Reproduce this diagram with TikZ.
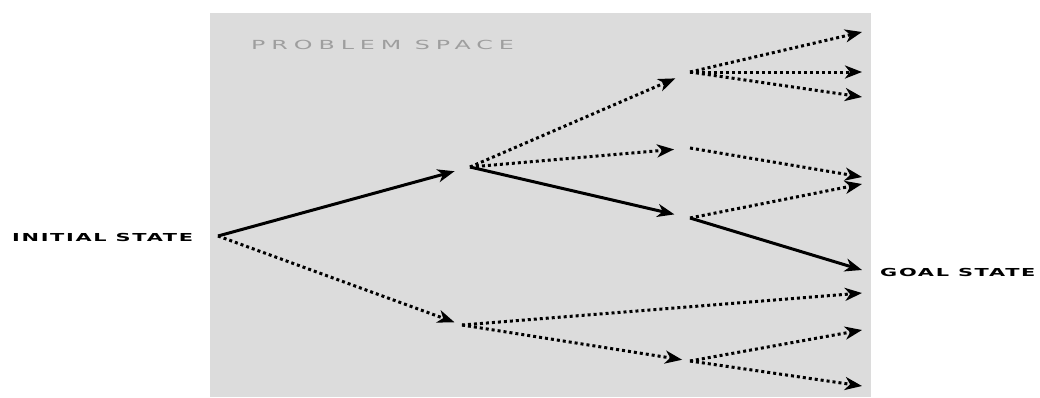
\documentclass[tikz,border=0pt]{standalone}
\usepackage{fontspec}
\usepackage{graphicx}
\usepackage{xcolor}
\usetikzlibrary{arrows.meta}
\newfontfamily\statefont{DejaVu Sans}[LetterSpace=8]
\newfontfamily\spacefont{DejaVu Sans}[LetterSpace=25]
\newcommand{\widetext}[1]{\scalebox{1.9}[1]{#1}}
\definecolor{spacegray}{HTML}{DCDCDC}
\definecolor{spacetext}{HTML}{9E9E9E}

\tikzset{
  move/.style={line width=3pt, -{Stealth[length=17pt, width=13pt, inset=5pt]}},
  trial/.style={move, dash pattern=on 3pt off 3pt},
  far/.style={shorten >=16pt},
  near/.style={shorten >=8pt},
  statelabel/.style={font=\statefont\bfseries\fontsize{11}{13}\selectfont, inner sep=0pt}
}

\begin{document}
\begin{tikzpicture}[x=1pt, y=-1pt]
  \useasboundingbox (0,0) rectangle (1040,397);
  % problem space
  \fill[spacegray] (210,13) rectangle (871,397);
  \node[anchor=west, inner sep=0pt, text=spacetext,
        font=\spacefont\fontsize{12.5}{14}\selectfont] (space) at (251,45) {\widetext{PROBLEM SPACE}};

  % states
  \coordinate (init) at (218,236);
  \coordinate (a) at (470,167);
  \coordinate (b) at (462,325);
  \coordinate (c) at (690,72);
  \coordinate (d) at (690,148);
  \coordinate (e) at (690,218);
  \coordinate (f) at (690,361);
  \foreach \name/\y in {c1/32, c2/72, c3/97, d1/177, e1/184, goal/270, b1/293, f1/330, f2/386}
    \coordinate (\name) at (862,\y);

  % labels
  \node[statelabel, anchor=west] (initlabel) at (12,237) {\widetext{INITIAL STATE}};
  \node[statelabel, anchor=west] (goallabel) at (880,272) {\widetext{GOAL STATE}};

  % the way to the goal
  \draw[move, far] (init) -- (a);
  \draw[move, far] (a) -- (e);
  \draw[move] (e) -- (goal);

  % dead ends
  \draw[trial, near] (init) -- (b);
  \draw[trial, far] (a) -- (c);
  \draw[trial, far] (a) -- (d);
  \draw[trial, near] (b) -- (f);
  \foreach \from/\to in {c/c1, c/c2, c/c3, d/d1, e/e1, b/b1, f/f1, f/f2}
    \draw[trial] (\from) -- (\to);
\end{tikzpicture}
\end{document}
